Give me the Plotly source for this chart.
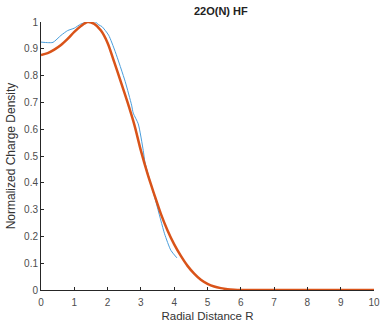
import plotly.graph_objects as go

# Blue (thin) series
r_blue = [0, 0.2, 0.36, 0.6, 0.8, 1.0, 1.19, 1.39, 1.63, 1.74, 1.83, 2.03, 2.23, 2.53, 2.72, 2.77, 2.92, 3.07, 3.12, 3.46, 3.71, 3.9, 4.08]
d_blue = [0.925, 0.923, 0.924, 0.95, 0.968, 0.977, 0.992, 1.0, 1.0, 0.989, 0.983, 0.951, 0.889, 0.777, 0.69, 0.66, 0.62, 0.521, 0.478, 0.325, 0.21, 0.148, 0.12]

# Orange (thick) series
r_orange = [0, 0.2, 0.4, 0.6, 0.8, 1.0, 1.2, 1.4, 1.6, 1.8, 2.0, 2.2, 2.4, 2.6, 2.8, 3.0, 3.2, 3.4, 3.6, 3.8, 4.0,
            4.2, 4.4, 4.6, 4.8, 5.0, 5.2, 5.4, 5.6, 5.8, 6.0, 7, 8, 9, 10]
d_orange = [0.877, 0.884, 0.897, 0.914, 0.937, 0.963, 0.985, 1.0, 0.993, 0.968, 0.922, 0.85, 0.776, 0.70, 0.618,
            0.52, 0.433, 0.357, 0.284, 0.222, 0.17, 0.127, 0.09, 0.061, 0.038, 0.023, 0.013, 0.007, 0.003, 0.001,
            0.0, 0.0, 0.0, 0.0, 0.0]

x_ticks = list(range(0, 11))
y_ticks = [0, 0.1, 0.2, 0.3, 0.4, 0.5, 0.6, 0.7, 0.8, 0.9, 1]
y_tick_text = ["0", "0.1", "0.2", "0.3", "0.4", "0.5", "0.6", "0.7", "0.8", "0.9", "1"]

fig = go.Figure()
fig.add_trace(go.Scatter(x=r_blue, y=d_blue, mode="lines",
                         line=dict(color="#4A9EDC", width=1, shape="spline", smoothing=0.6),
                         showlegend=False))
fig.add_trace(go.Scatter(x=r_orange, y=d_orange, mode="lines",
                         line=dict(color="#D95319", width=2.5, shape="spline", smoothing=0.8),
                         showlegend=False, cliponaxis=False))

axis_color = "#262626"
FONT = "Liberation Sans, Arial, sans-serif"
tick_font = dict(family=FONT, size=10, color="#4D4D4D")

fig.update_layout(
    width=385, height=328,
    margin=dict(l=41, r=5, t=22, b=38),
    paper_bgcolor="white", plot_bgcolor="white",
    title=dict(text="<b>22O(N) HF</b>", x=0.54, xref="paper", xanchor="center", y=1, yref="container",
               yanchor="top", pad=dict(t=7),
               font=dict(family=FONT, size=11, color="#222222")),
    xaxis=dict(range=[0, 10], tickvals=x_ticks, ticks="inside", ticklen=3, tickcolor=axis_color,
               showline=True, linecolor=axis_color, linewidth=1, showgrid=False, zeroline=False,
               tickfont=tick_font, ticklabeloverflow="allow", ticklabelstandoff=3,
               title=dict(text="Radial Distance R", standoff=4,
                          font=dict(family=FONT, size=11.5, color="#333333"))),
    yaxis=dict(range=[0, 1], tickvals=y_ticks, ticktext=y_tick_text, ticks="inside", ticklen=3,
               tickcolor=axis_color, showline=True, linecolor=axis_color, linewidth=1,
               showgrid=False, zeroline=False, tickfont=tick_font,
               title=dict(text="Normalized Charge Density", standoff=5,
                          font=dict(family=FONT, size=12, color="#333333"))),
)

fig.write_html("out.html")
